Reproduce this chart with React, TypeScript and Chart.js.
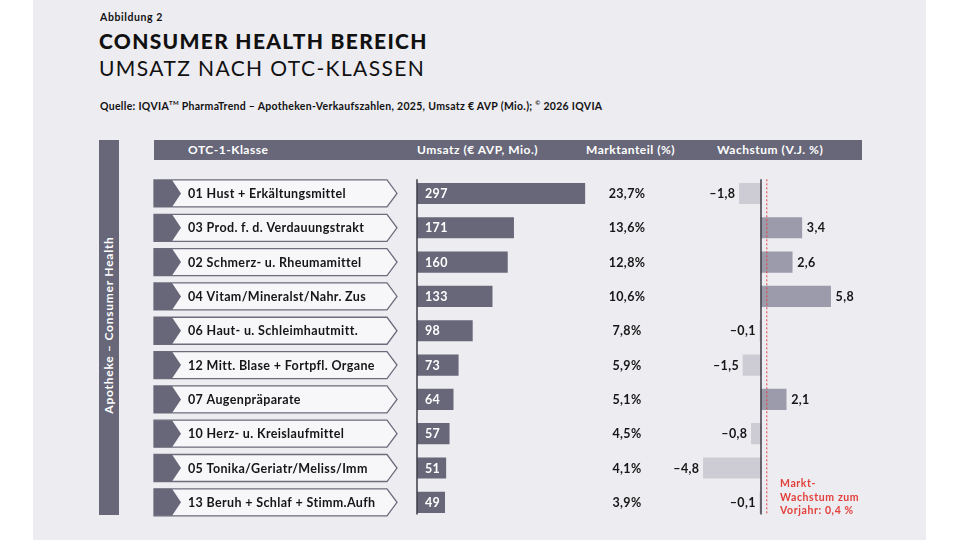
import React, { useEffect, useRef } from "react";
import { Chart, registerables } from "chart.js";

Chart.register(...registerables);

const categories = [
  "01 Hust + Erkältungsmittel",
  "03 Prod. f. d. Verdauungstrakt",
  "02 Schmerz- u. Rheumamittel",
  "04 Vitam/Mineralst/Nahr. Zus",
  "06 Haut- u. Schleimhautmitt.",
  "12 Mitt. Blase + Fortpfl. Organe",
  "07 Augenpräparate",
  "10 Herz- u. Kreislaufmittel",
  "05 Tonika/Geriatr/Meliss/Imm",
  "13 Beruh + Schlaf + Stimm.Aufh",
];
const umsatz = [297, 171, 160, 133, 98, 73, 64, 57, 51, 49];
const marktanteil = [23.7, 13.6, 12.8, 10.6, 7.8, 5.9, 5.1, 4.5, 4.1, 3.9];
const wachstum = [-1.8, 3.4, 2.6, 5.8, -0.1, -1.5, 2.1, -0.8, -4.8, -0.1];
const marktWachstum = 0.4;
const headerLabels = ["OTC-1-Klasse", "Umsatz (€ AVP, Mio.)", "Marktanteil (%)", "Wachstum (V.J. %)"];

const FONT = "Lato, 'Noto Sans', sans-serif";
const DARK = "#676779";
const POS = "#9c9bab";
const NEG = "#cdccd4";
const BG = "#edecf1";
const RED = "#e2403b";

// layout (pixels)
const AREA_L = 417;
const AREA_R = 862;
const AREA_T = 176.3;
const AREA_B = 519.5;
const U_PX = 0.565; // px per Mio
const W_ZERO = 761;
const W_PX = 12; // px per %

const fmt = (v: number) => v.toFixed(1).replace(".", ",").replace("-", "–");

const overlayPlugin = {
  id: "overlay",
  afterDatasetsDraw(chart: any) {
    const ctx = chart.ctx;
    const y = chart.scales.y;
    const xU = chart.scales.xU;
    const xW = chart.scales.xW;
    ctx.save();
    (ctx as any).letterSpacing = "0.35px";
    // label boxes
    categories.forEach((c, i) => {
      const cy = y.getPixelForValue(i);
      const t = cy - 13.5;
      const b = cy + 13.5;
      ctx.beginPath();
      ctx.moveTo(154, t);
      ctx.lineTo(387, t);
      ctx.lineTo(397, cy);
      ctx.lineTo(387, b);
      ctx.lineTo(154, b);
      ctx.closePath();
      ctx.fillStyle = "#f7f7fa";
      ctx.fill();
      ctx.lineWidth = 1.3;
      ctx.strokeStyle = "#6c6c7c";
      ctx.stroke();
      ctx.beginPath();
      ctx.moveTo(154, t);
      ctx.lineTo(172, t);
      ctx.lineTo(181, cy);
      ctx.lineTo(172, b);
      ctx.lineTo(154, b);
      ctx.closePath();
      ctx.fillStyle = DARK;
      ctx.fill();
      ctx.fillStyle = "#161616";
      ctx.font = `bold 12.5px ${FONT}`;
      ctx.textBaseline = "middle";
      ctx.textAlign = "left";
      ctx.fillText(c, 188, cy + 0.5);
      // Marktanteil
      ctx.textAlign = "center";
      ctx.fillText(fmt(marktanteil[i]) + "%", 627, cy + 0.5);
    });
    // axis lines
    const top = chart.chartArea.top + 3;
    const bot = chart.chartArea.bottom - 5;
    ctx.strokeStyle = "#3c3c44";
    ctx.lineWidth = 1.5;
    [xU.getPixelForValue(0), xW.getPixelForValue(0)].forEach((x: number) => {
      ctx.beginPath();
      ctx.moveTo(x, top);
      ctx.lineTo(x, bot);
      ctx.stroke();
    });
    // market growth line
    const mx = xW.getPixelForValue(marktWachstum);
    ctx.strokeStyle = RED;
    ctx.lineWidth = 1;
    ctx.setLineDash([2, 2]);
    ctx.beginPath();
    ctx.moveTo(mx + 1, top);
    ctx.lineTo(mx + 1, bot);
    ctx.stroke();
    ctx.setLineDash([]);
    // value labels
    const mU = chart.getDatasetMeta(0);
    const mW = chart.getDatasetMeta(1);
    ctx.font = `bold 12.5px ${FONT}`;
    ctx.textBaseline = "middle";
    mU.data.forEach((el: any, i: number) => {
      ctx.fillStyle = "#ffffff";
      ctx.textAlign = "left";
      ctx.fillText(String(umsatz[i]), el.base + 8, el.y + 0.5);
    });
    mW.data.forEach((el: any, i: number) => {
      ctx.fillStyle = "#161616";
      const v = wachstum[i];
      if (v >= 0) {
        ctx.textAlign = "left";
        ctx.fillText(fmt(v), el.x + 5, el.y + 0.5);
      } else {
        ctx.textAlign = "right";
        ctx.fillText(fmt(v), el.x - 4, el.y + 0.5);
      }
    });
    ctx.restore();
  },
};

export default function App() {
  const ref = useRef<HTMLCanvasElement>(null);
  useEffect(() => {
    if (!ref.current) return;
    const areaW = AREA_R - AREA_L;
    const chart = new Chart(ref.current, {
      type: "bar",
      data: {
        labels: categories,
        datasets: [
          {
            label: "Umsatz",
            data: umsatz,
            xAxisID: "xU",
            backgroundColor: DARK,
            barThickness: 20.5,
            grouped: false,
          } as any,
          {
            label: "Wachstum",
            data: wachstum,
            xAxisID: "xW",
            backgroundColor: wachstum.map((v) => (v >= 0 ? POS : NEG)),
            barThickness: 20.5,
            grouped: false,
          } as any,
        ],
      },
      options: {
        indexAxis: "y",
        responsive: false,
        animation: false,
        layout: {
          padding: { left: AREA_L, right: 960 - AREA_R, top: AREA_T, bottom: 540 - AREA_B },
        },
        plugins: { legend: { display: false }, tooltip: { enabled: false } },
        scales: {
          y: { type: "category", display: false, offset: true },
          xU: { type: "linear", display: false, min: 0, max: areaW / U_PX },
          xW: {
            type: "linear",
            display: false,
            min: -(W_ZERO - AREA_L) / W_PX,
            max: (AREA_R - W_ZERO) / W_PX,
          },
        },
      },
      plugins: [overlayPlugin],
    });
    return () => chart.destroy();
  }, []);

  const abs = (s: React.CSSProperties): React.CSSProperties => ({ position: "absolute", margin: 0, whiteSpace: "nowrap", ...s });
  const headerX = [188, 417, 586, 717];

  return (
    <div style={{ position: "fixed", left: 0, top: 0, width: 960, height: 540, background: "#ffffff", overflow: "hidden", fontFamily: FONT, color: "#111" }}>
      <div style={abs({ left: 33, top: 0, width: 893, height: 540, background: BG })} />
      <div style={abs({ left: 100, top: 10, fontSize: 10.5, fontWeight: 700, lineHeight: "14px", letterSpacing: 0.6 })}>Abbildung 2</div>
      <div style={abs({ left: 99, top: 27, fontSize: 21, fontWeight: 900, lineHeight: "28px", letterSpacing: 1.3 })}>CONSUMER HEALTH BEREICH</div>
      <div style={abs({ left: 99, top: 54, fontSize: 21, fontWeight: 400, lineHeight: "28px", letterSpacing: 1.4 })}>UMSATZ NACH OTC-KLASSEN</div>
      <div style={abs({ left: 100, top: 96, fontSize: 10.5, fontWeight: 700, lineHeight: "14px", letterSpacing: 0.3 })}>
        Quelle: IQVIA<sup style={{ fontSize: 6 }}>TM</sup> PharmaTrend – Apotheken-Verkaufszahlen, 2025, Umsatz € AVP (Mio.); <sup style={{ fontSize: 6 }}>©</sup> 2026 IQVIA
      </div>
      <div style={abs({ left: 154, top: 140, width: 708, height: 20, background: DARK })} />
      {headerLabels.map((h, i) => (
        <div key={h} style={abs({ left: headerX[i], top: 140, lineHeight: "20px", fontSize: 12, fontWeight: 700, color: "#ffffff", letterSpacing: 0.5 })}>{h}</div>
      ))}
      <div style={abs({ left: 99, top: 140, width: 20, height: 375, background: DARK })} />
      <div style={abs({ left: 109, top: 325, transform: "translate(-50%, -50%) rotate(-90deg)", fontSize: 12, fontWeight: 700, color: "#ffffff", lineHeight: "14px", letterSpacing: 0.75 })}>
        Apotheke – Consumer Health
      </div>
      <canvas ref={ref} width={960} height={540} style={{ position: "absolute", left: 0, top: 0, width: 960, height: 540 }} />
      <div style={abs({ left: 780, top: 477, fontSize: 10.5, fontWeight: 700, color: RED, lineHeight: "13.5px", letterSpacing: 0.6 })}>
        Markt-<br />Wachstum zum<br />Vorjahr: {fmt(marktWachstum)} %
      </div>
    </div>
  );
}
